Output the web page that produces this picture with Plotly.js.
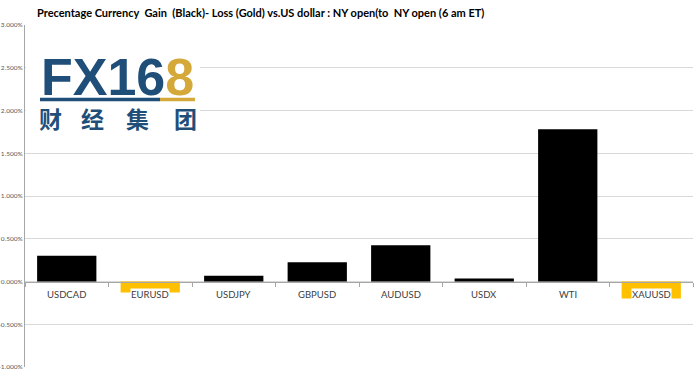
<!DOCTYPE html>
<html><head><meta charset="utf-8">
<script src="https://cdn.plot.ly/plotly-3.0.1.min.js"></script>
<style>html,body{margin:0;padding:0;background:#fff}</style>
</head><body><div id="chart" style="width:700px;height:371px"></div>
<script>
const categories = ["USDCAD","EURUSD","USDJPY","GBPUSD","AUDUSD","USDX","WTI","XAUUSD"];
const changePct = [0.30, -0.13, 0.067, 0.226, 0.425, 0.035, 1.78, -0.20];
const yTicks = [-1, -0.5, 0, 0.5, 1, 1.5, 2, 2.5, 3];
const yTickText = yTicks.map(v => v.toFixed(3) + "%");
const logoChars = ["财","经","集","团"];
const gainColor = "#000000", lossColor = "#FFC000";

const yMin = -1, yMax = 3;
const W = 700, H = 371, ML = 25, MR = 7, MT = 25, MB = 4;
const pw = W - ML - MR, ph = H - MT - MB;
const px = v => (v - ML) / pw;
const py = v => 1 - (v - MT) / ph;

const trace = {
  type: "bar", x: categories, y: changePct,
  marker: {color: changePct.map(v => v >= 0 ? gainColor : lossColor), line: {width: 0}},
  width: 0.71, hoverinfo: "skip"
};
const annotations = categories.map(c => ({
  x: c, y: 0, xref: "x", yref: "y", text: c, showarrow: false,
  yanchor: "top", yshift: -6, bgcolor: "#ffffff", borderpad: 0,
  font: {family: "Lato, 'Open Sans', sans-serif", size: 9.5, color: "#404040"}
}));
annotations.push({
  xref: "paper", yref: "paper", x: px(39), y: py(79), yshift: 2, xanchor: "left", yanchor: "middle",
  text: "<b>FX16<span style='color:#D4A93A'>8</span></b>", showarrow: false,
  font: {family: "'Liberation Sans', Arial, sans-serif", size: 52, color: "#1F4E79"}
});
const charCenters = [50, 92, 137, 185];
logoChars.forEach((ch, i) => annotations.push({
  xref: "paper", yref: "paper", x: px(charCenters[i]), y: py(118), xanchor: "center", yanchor: "middle",
  text: "<b>" + ch + "</b>", showarrow: false,
  font: {family: "'Noto Sans CJK SC'", size: 23, color: "#1F4E79"}
}));
const layout = {
  width: W, height: H,
  margin: {l: ML, r: MR, t: MT, b: MB},
  paper_bgcolor: "#fff", plot_bgcolor: "#fff",
  showlegend: false,
  title: {text: "<b>Precentage Currency  Gain  (Black)- Loss (Gold) vs.US dollar : NY open(to  NY open (6 am ET)</b>",
    x: 37/W, xanchor: "left", xref: "container", y: 1 - 13/H, yanchor: "middle", yref: "container",
    font: {family: "Lato, 'Open Sans', sans-serif", size: 11, color: "#000"}},
  xaxis: {type: "category", range: [-0.5, categories.length - 0.5], showticklabels: false,
    anchor: "free", position: (0 - yMin)/(yMax - yMin), showline: true, linecolor: "#a6a6a6", linewidth: 1,
    ticks: "outside", tickson: "boundaries", ticklen: 4, tickcolor: "#a6a6a6", showgrid: false, zeroline: false, fixedrange: true},
  yaxis: {range: [yMin, yMax], tickvals: yTicks, ticktext: yTickText, showgrid: true, gridcolor: "#d9d9d9", gridwidth: 1,
    zeroline: false, showline: true, linecolor: "#a6a6a6", linewidth: 1, ticks: "", ticklen: 0,
    tickfont: {family: "Lato, sans-serif", size: 6.5, color: "#595959"}, fixedrange: true},
  shapes: [
    {type: "rect", xref: "paper", yref: "paper", x0: px(26), x1: px(200), y0: py(136), y1: py(52), fillcolor: "#ffffff", line: {width: 0}, layer: "above"},
    {type: "line", xref: "paper", yref: "paper", x0: px(40), x1: px(160), y0: py(99.5), y1: py(99.5), line: {color: "#1F4E79", width: 3.5}, layer: "above"},
    {type: "line", xref: "paper", yref: "paper", x0: px(160), x1: px(195), y0: py(99.5), y1: py(99.5), line: {color: "#D4A93A", width: 3.5}, layer: "above"}
  ],
  annotations: annotations,
  bargap: 0.29
};
Plotly.newPlot("chart", [trace], layout, {displayModeBar: false, staticPlot: true});
</script></body></html>
